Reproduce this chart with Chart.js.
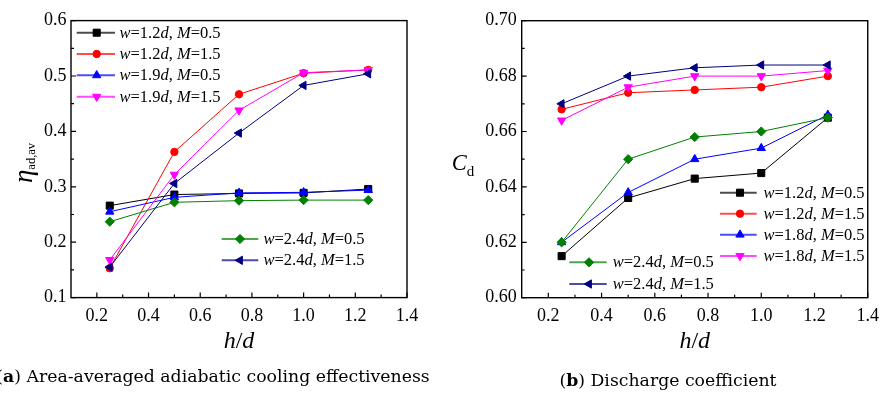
<!DOCTYPE html>
<html>
<head>
<meta charset="utf-8">
<script src="https://cdn.jsdelivr.net/npm/chart.js@4/dist/chart.umd.min.js"></script>
<style>
  html, body { margin: 0; padding: 0; background: #fff; }
  #wrap { position: relative; width: 887px; height: 394px; overflow: hidden; }
  canvas { position: absolute; top: 0; }
  #cvA { left: 0; }
  #cvB { left: 443px; }
</style>
</head>
<body>
<div id="wrap">
  <canvas id="cvA" width="443" height="394"></canvas>
  <canvas id="cvB" width="444" height="394"></canvas>
</div>
<script>
// h/d, shared by both panels
const hOverD = [0.25, 0.5, 0.75, 1.0, 1.25];

// (a) area-averaged adiabatic cooling effectiveness
const etaW12M05 = [0.266, 0.286, 0.288, 0.289, 0.296];
const etaW12M15 = [0.153, 0.363, 0.467, 0.505, 0.511];
const etaW19M05 = [0.255, 0.281, 0.289, 0.290, 0.294];
const etaW19M15 = [0.168, 0.322, 0.438, 0.506, 0.511];
const etaW24M05 = [0.237, 0.272, 0.275, 0.276, 0.276];
const etaW24M15 = [0.155, 0.306, 0.397, 0.483, 0.504];

// (b) discharge coefficient
const cdW12M05 = [0.615, 0.636, 0.643, 0.645, 0.665];
const cdW12M15 = [0.668, 0.674, 0.675, 0.676, 0.680];
const cdW18M05 = [0.620, 0.638, 0.650, 0.654, 0.666];
const cdW18M15 = [0.664, 0.676, 0.680, 0.680, 0.682];
const cdW24M05 = [0.620, 0.650, 0.658, 0.660, 0.665];
const cdW24M15 = [0.670, 0.680, 0.683, 0.684, 0.684];

const labelsA = ['w=1.2d, M=0.5', 'w=1.2d, M=1.5', 'w=1.9d, M=0.5', 'w=1.9d, M=1.5', 'w=2.4d, M=0.5', 'w=2.4d, M=1.5'];
const labelsB = ['w=1.2d, M=0.5', 'w=1.2d, M=1.5', 'w=1.8d, M=0.5', 'w=1.8d, M=1.5', 'w=2.4d, M=0.5', 'w=2.4d, M=1.5'];

const xTicks = [0.2, 0.4, 0.6, 0.8, 1.0, 1.2, 1.4];
const yTicksA = [0.1, 0.2, 0.3, 0.4, 0.5, 0.6];
const yTicksB = [0.60, 0.62, 0.64, 0.66, 0.68, 0.70];

const SERIF = '"Liberation Serif", "Times New Roman", serif';

const seriesStyle = [
  { color: '#000000', pointStyle: 'rect', rotation: 0, radius: 5 },
  { color: '#ff0000', pointStyle: 'circle', rotation: 0, radius: 3.7 },
  { color: '#0000ff', pointStyle: 'triangle', rotation: 0, radius: 4.8 },
  { color: '#ff00ff', pointStyle: 'triangle', rotation: 180, radius: 4.8 },
  { color: '#008000', pointStyle: 'rectRot', rotation: 0, radius: 4.6 },
  { color: '#000080', pointStyle: 'triangle', rotation: -90, radius: 4.8 }
];

function fontStr(size, style, weight, family) {
  return (style || 'normal') + ' ' + (weight || 'normal') + ' ' + size + 'px ' + (family || SERIF);
}

// draws text runs one after another on a shared baseline
function drawRuns(ctx, runs, x, y, align) {
  let total = 0;
  runs.forEach(r => { ctx.font = r.font; total += ctx.measureText(r.text).width; });
  let cx = align === 'center' ? x - total / 2 : x;
  ctx.textAlign = 'left';
  ctx.textBaseline = 'alphabetic';
  runs.forEach(r => {
    ctx.font = r.font;
    ctx.fillText(r.text, cx, y + (r.dy || 0));
    cx += ctx.measureText(r.text).width;
  });
}

// letters in a series label (w, d, M) are set in italics
function labelRuns(label, size) {
  return label.split(/([A-Za-z])/).filter(s => s).map(s => ({
    text: s,
    font: fontStr(size, /^[A-Za-z]$/.test(s) ? 'italic' : 'normal')
  }));
}

function buildDatasets(labels, series) {
  return series.map((vals, i) => ({
    label: labels[i],
    data: vals.map((v, j) => ({ x: hOverD[j], y: v })),
    showLine: true,
    borderColor: seriesStyle[i].color,
    backgroundColor: seriesStyle[i].color,
    borderWidth: 1,
    pointStyle: seriesStyle[i].pointStyle,
    rotation: seriesStyle[i].rotation,
    pointRadius: seriesStyle[i].radius,
    pointHoverRadius: seriesStyle[i].radius,
    pointBorderWidth: 1,
    tension: 0,
    order: series.length - i
  }));
}

// frame, inward ticks, axis titles, legends and caption
const decorPlugin = {
  id: 'decor',
  afterDraw(chart, args, opts) {
    const ctx = chart.ctx;
    const a = chart.chartArea;
    const xs = chart.scales.x, ys = chart.scales.y;
    ctx.save();
    ctx.strokeStyle = '#000';
    ctx.lineWidth = 1.4;
    ctx.strokeRect(a.left, a.top, a.right - a.left, a.bottom - a.top);

    ctx.lineWidth = 1.2;
    ctx.beginPath();
    xTicks.forEach(v => {
      const px = xs.getPixelForValue(v);
      ctx.moveTo(px, a.bottom); ctx.lineTo(px, a.bottom - 5);
      const m = v - 0.1;
      const pm = xs.getPixelForValue(m);
      if (m > xs.min + 1e-9) { ctx.moveTo(pm, a.bottom); ctx.lineTo(pm, a.bottom - 3); }
    });
    const yt = opts.yTicks;
    yt.forEach((v, i) => {
      const py = ys.getPixelForValue(v);
      ctx.moveTo(a.left, py); ctx.lineTo(a.left + 5, py);
      if (i > 0) {
        const pm = ys.getPixelForValue((v + yt[i - 1]) / 2);
        ctx.moveTo(a.left, pm); ctx.lineTo(a.left + 3, pm);
      }
    });
    ctx.stroke();

    ctx.fillStyle = '#000';
    // x title
    drawRuns(ctx, [
      { text: 'h', font: fontStr(24, 'italic') },
      { text: '/', font: fontStr(24, 'normal') },
      { text: 'd', font: fontStr(24, 'italic') }
    ], (a.left + a.right) / 2, opts.xTitleY, 'center');

    // y title
    const yt2 = opts.yTitle;
    ctx.save();
    ctx.translate(yt2.x, yt2.y);
    if (yt2.rotate) ctx.rotate(-Math.PI / 2);
    drawRuns(ctx, yt2.runs, 0, 0, yt2.rotate ? 'center' : 'left');
    ctx.restore();

    // legends
    const drawPoint = Chart.helpers && Chart.helpers.drawPoint;
    opts.legends.forEach(lg => {
      lg.items.forEach((idx, k) => {
        const ds = chart.data.datasets[idx];
        const y = lg.rows[k];
        ctx.save();
        ctx.globalAlpha = 0.7;
        ctx.strokeStyle = ds.borderColor;
        ctx.lineWidth = 2;
        ctx.beginPath();
        ctx.moveTo(lg.x0, y); ctx.lineTo(lg.x1, y);
        ctx.stroke();
        ctx.restore();
        ctx.fillStyle = ds.backgroundColor;
        ctx.strokeStyle = ds.borderColor;
        ctx.lineWidth = 1;
        if (drawPoint) {
          drawPoint(ctx, { pointStyle: ds.pointStyle, rotation: ds.rotation, radius: ds.pointRadius, borderWidth: 1 }, lg.xm, y);
        } else {
          ctx.beginPath(); ctx.arc(lg.xm, y, 4, 0, Math.PI * 2); ctx.fill();
        }
        ctx.fillStyle = '#000';
        drawRuns(ctx, labelRuns(ds.label, 16.5), lg.xt, y + 5);
      });
    });

    // caption
    const cap = opts.caption;
    drawRuns(ctx, [
      { text: '(', font: fontStr(cap.size, 'normal', 'normal', cap.family) },
      { text: cap.letter, font: fontStr(cap.size, 'normal', 'bold', cap.family) },
      { text: ') ' + cap.text, font: fontStr(cap.size, 'normal', 'normal', cap.family) }
    ], cap.x, cap.y, 'center');
    ctx.restore();
  }
};

function makePanel(canvasId, datasets, yMin, yMax, yTicks, digits, area, decor) {
  const cv = document.getElementById(canvasId);
  const H = cv.height;
  return new Chart(cv, {
    type: 'scatter',
    data: { datasets },
    options: {
      responsive: false,
      animation: false,
      events: [],
      layout: { padding: { top: area.top, right: cv.width - area.right, left: 0, bottom: 0 } },
      plugins: {
        legend: { display: false },
        tooltip: { enabled: false },
        decor: Object.assign({ yTicks }, decor)
      },
      scales: {
        x: {
          type: 'linear', min: 0.1, max: 1.4,
          afterBuildTicks: s => { s.ticks = xTicks.map(v => ({ value: v })); },
          afterFit: s => { s.height = H - area.bottom; },
          grid: { display: false, drawTicks: false },
          border: { display: false },
          ticks: {
            color: '#000', padding: 8, maxRotation: 0, autoSkip: false,
            font: { family: SERIF, size: 18 },
            callback: v => Number(v).toFixed(1)
          }
        },
        y: {
          type: 'linear', min: yMin, max: yMax,
          afterBuildTicks: s => { s.ticks = yTicks.map(v => ({ value: v })); },
          afterFit: s => { s.width = area.left; },
          grid: { display: false, drawTicks: false },
          border: { display: false },
          ticks: {
            color: '#000', padding: area.tickPad, autoSkip: false,
            font: { family: SERIF, size: 18 },
            callback: v => Number(v).toFixed(digits)
          }
        }
      }
    },
    plugins: [decorPlugin]
  });
}

makePanel('cvA',
  buildDatasets(labelsA, [etaW12M05, etaW12M15, etaW19M05, etaW19M15, etaW24M05, etaW24M15]),
  0.1, 0.6, yTicksA, 1,
  { left: 71, right: 407, top: 20.6, bottom: 297.6, tickPad: 4.5 },
  {
    xTitleY: 348,
    yTitle: {
      x: 32, y: 163, rotate: true,
      runs: [
        { text: 'η', font: fontStr(27, 'italic') },
        { text: 'ad,av', font: fontStr(12.5, 'normal'), dy: 3 }
      ]
    },
    legends: [
      { items: [0, 1, 2, 3], x0: 76.7, x1: 115, xm: 96.7, xt: 119.5, rows: [32.7, 54, 75.3, 96.7] },
      { items: [4, 5], x0: 221.7, x1: 258.3, xm: 240, xt: 263.5, rows: [239, 260.3] }
    ],
    caption: { letter: 'a', text: 'Area-averaged adiabatic cooling effectiveness', x: 213, y: 382, size: 17.3, family: '"DejaVu Serif", serif' }
  });

makePanel('cvB',
  buildDatasets(labelsB, [cdW12M05, cdW12M15, cdW18M05, cdW18M15, cdW24M05, cdW24M15]),
  0.60, 0.70, yTicksB, 2,
  { left: 78.7, right: 432, top: 20.7, bottom: 297.7, tickPad: 5 },
  {
    xTitleY: 348,
    yTitle: {
      x: 8.7, y: 170, rotate: false,
      runs: [
        { text: 'C', font: fontStr(22.5, 'italic') },
        { text: 'd', font: fontStr(15, 'normal'), dy: 6 }
      ]
    },
    legends: [
      { items: [0, 1, 2, 3], x0: 277, x1: 313.7, xm: 297, xt: 320.5, rows: [192.7, 213.7, 234.7, 256] },
      { items: [4, 5], x0: 126.3, x1: 163.7, xm: 146, xt: 169.7, rows: [262.3, 284] }
    ],
    caption: { letter: 'b', text: 'Discharge coefficient', x: 225, y: 386, size: 17.3, family: '"DejaVu Serif", serif' }
  });
</script>
</body>
</html>
